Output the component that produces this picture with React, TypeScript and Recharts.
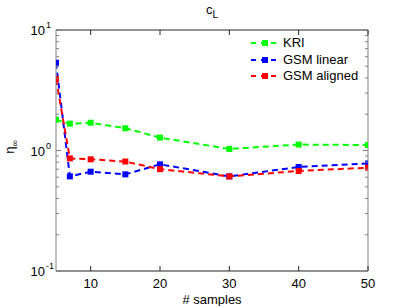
import * as React from 'react';
import { LineChart, Line, XAxis, YAxis } from 'recharts';

// # samples vs eta_inf
const samples = [5, 7, 10, 15, 20, 30, 40, 50];
const kri = [1.8, 1.67, 1.7, 1.53, 1.28, 1.03, 1.12, 1.11];
const gsmLinear = [5.35, 0.61, 0.667, 0.634, 0.768, 0.61, 0.73, 0.78];
const gsmAligned = [3.92, 0.86, 0.845, 0.81, 0.7, 0.61, 0.676, 0.72];

const xTicks = [10, 20, 30, 40, 50];
const yTicks = [0.1, 0.2, 0.3, 0.4, 0.5, 0.6, 0.7, 0.8, 0.9, 1, 2, 3, 4, 5, 6, 7, 8, 9, 10];

const seriesList = [
  { key: 'kri', name: 'KRI', color: '#00ff00', values: kri },
  { key: 'gsmLinear', name: 'GSM linear', color: '#0000ff', values: gsmLinear },
  { key: 'gsmAligned', name: 'GSM aligned', color: '#ff0000', values: gsmAligned },
];

const data = samples.map((s, i) => ({
  s,
  kri: kri[i],
  gsmLinear: gsmLinear[i],
  gsmAligned: gsmAligned[i],
}));

const FONT = '"Liberation Sans", Arial, sans-serif';
const OFF = 8; // tickSize + tickMargin
const isMajor = (v: number) => v === 0.1 || v === 1 || v === 10;

const LeftTick = (props: any) => {
  const { x, y, payload } = props;
  const ax = x + OFF;
  const v = payload.value;
  const major = isMajor(v);
  const exp = Math.round(Math.log10(v));
  return (
    <g>
      <line x1={ax} x2={ax + (major ? 5 : 3)} y1={y} y2={y} stroke="#808080" />
      {major && (
        <text x={ax - 11} y={y + 5} textAnchor="end" fontSize={13} fontFamily={FONT} fill="#000">
          10
        </text>
      )}
      {major && (
        <text x={ax - 10} y={y - 2} textAnchor="start" fontSize={9} fontFamily={FONT} fill="#000">
          {exp}
        </text>
      )}
    </g>
  );
};

const RightTick = (props: any) => {
  const { x, y, payload } = props;
  const ax = x - OFF;
  const major = isMajor(payload.value);
  return <line x1={ax} x2={ax - (major ? 5 : 3)} y1={y} y2={y} stroke="#808080" />;
};

const BottomTick = (props: any) => {
  const { x, y, payload } = props;
  const ay = y - OFF;
  return (
    <g>
      <line x1={x} x2={x} y1={ay} y2={ay - 5} stroke="#262626" />
      <text x={x} y={ay + 17} textAnchor="middle" fontSize={13} fontFamily={FONT} fill="#000">
        {payload.value}
      </text>
    </g>
  );
};

const TopTick = (props: any) => {
  const { x, y } = props;
  const ay = y + OFF;
  return <line x1={x} x2={x} y1={ay} y2={ay + 5} stroke="#262626" />;
};

const squareDot = (color: string) => (p: any) => {
  if (p.cx == null || p.cy == null) return <g key={p.index} />;
  return <rect key={p.index} x={p.cx - 3} y={p.cy - 3} width={6} height={6} fill={color} />;
};

const LegendBox = () => (
  <div
    style={{
      position: 'absolute',
      left: 248,
      top: 35,
      fontFamily: FONT,
      fontSize: 13,
      lineHeight: '16.5px',
      color: '#000',
    }}
  >
    {seriesList.map((s) => (
      <div key={s.key} style={{ display: 'flex', alignItems: 'center', height: 16.5 }}>
        <svg width={35} height={10} style={{ display: 'block' }}>
          <line x1={3} x2={31} y1={5} y2={5} stroke={s.color} strokeWidth={2} strokeDasharray="5 5" />
          <rect x={14} y={2} width={6} height={6} fill={s.color} />
        </svg>
        <span>{s.name}</span>
      </div>
    ))}
  </div>
);

export default function App() {
  return (
    <div style={{ position: 'absolute', left: 0, top: 0, width: 407, height: 306, background: '#fff' }}>
      <LineChart width={407} height={306} data={data} margin={{ top: 29, right: 38, left: 0, bottom: 0 }}>
        <XAxis
          dataKey="s"
          type="number"
          domain={[5, 50]}
          ticks={xTicks}
          allowDataOverflow
          height={35}
          tickSize={5}
          tickMargin={3}
          tickLine={false}
          tick={<BottomTick />}
          axisLine={{ stroke: '#262626' }}
          label={{ value: '# samples', position: 'insideBottom', offset: 2, fontSize: 13, fontFamily: FONT, fill: '#000' }}
        />
        <XAxis
          xAxisId="t"
          orientation="top"
          dataKey="s"
          type="number"
          domain={[5, 50]}
          ticks={xTicks}
          allowDataOverflow
          height={1}
          tickSize={5}
          tickMargin={3}
          tickLine={false}
          tick={<TopTick />}
          axisLine={{ stroke: '#262626' }}
        />
        <YAxis
          scale="log"
          domain={[0.1, 10]}
          ticks={yTicks}
          allowDataOverflow
          width={56}
          tickSize={5}
          tickMargin={3}
          tickLine={false}
          tick={<LeftTick />}
          interval={0}
          axisLine={{ stroke: '#808080' }}
        />
        <YAxis
          yAxisId="r"
          orientation="right"
          scale="log"
          domain={[0.1, 10]}
          ticks={yTicks}
          allowDataOverflow
          width={1}
          tickSize={5}
          tickMargin={3}
          tickLine={false}
          tick={<RightTick />}
          interval={0}
          axisLine={{ stroke: '#808080' }}
        />
        {seriesList.map((s) => (
          <Line
            key={s.key}
            dataKey={s.key}
            name={s.name}
            stroke={s.color}
            strokeWidth={2}
            strokeDasharray="6 4"
            dot={squareDot(s.color)}
            activeDot={false}
            isAnimationActive={false}
          />
        ))}
      </LineChart>
      <div
        style={{
          position: 'absolute',
          left: 0,
          width: 424,
          top: 2,
          textAlign: 'center',
          fontFamily: FONT,
          fontSize: 13,
          lineHeight: '16px',
        }}
      >
        c<sub style={{ fontSize: 10 }}>L</sub>
      </div>
      <div
        style={{
          position: 'absolute',
          left: 11,
          top: 147,
          transform: 'translate(-50%, -50%) rotate(-90deg)',
          fontFamily: FONT,
          fontSize: 13,
          whiteSpace: 'nowrap',
        }}
      >
        η<sub style={{ fontSize: 9 }}>∞</sub>
      </div>
      <LegendBox />
    </div>
  );
}
